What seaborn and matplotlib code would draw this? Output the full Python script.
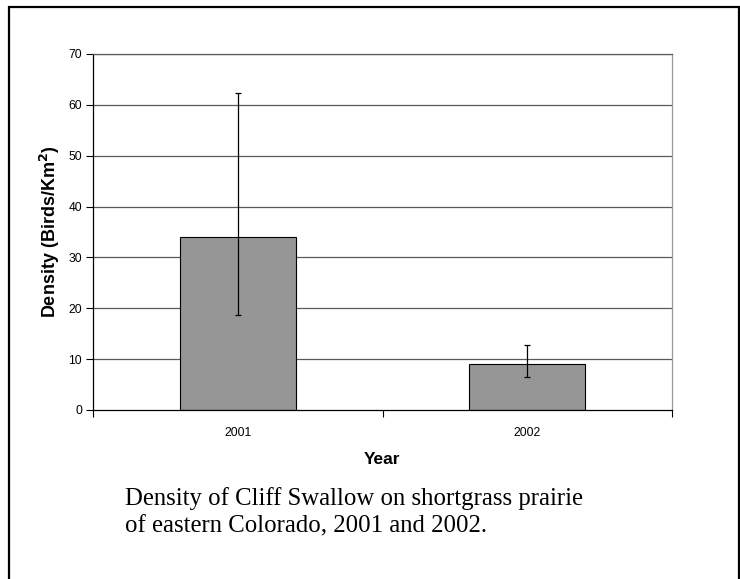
import matplotlib
matplotlib.use("Agg")
import matplotlib.pyplot as plt
import seaborn as sns
import pandas as pd
from matplotlib.patches import Rectangle

years = ["2001", "2002"]
density = [34.0, 9.1]
err_low = [18.6, 6.5]
err_high = [62.3, 12.7]
yticks = [0, 10, 20, 30, 40, 50, 60, 70]
caption = ["Density of Cliff Swallow on shortgrass prairie",
           "of eastern Colorado, 2001 and 2002."]

sns.set_theme(style="white")
plt.rcParams['font.family'] = ['Liberation Sans', 'DejaVu Sans']
plt.rcParams['text.color'] = 'black'
plt.rcParams['axes.labelcolor'] = 'black'

df = pd.DataFrame({"Year": years, "Density": density})

fig = plt.figure(figsize=(7.4, 5.79), dpi=100)
ax = fig.add_axes([93/740, 1-410/579, (672-93)/740, (410-54)/579])

ax.set_axisbelow(True)
for v in yticks[1:]:
    ax.axhline(v, color="#5a5a5a", lw=0.9, zorder=0)

sns.barplot(data=df, x="Year", y="Density", ax=ax, width=0.4,
            color="#969696", edgecolor="black", linewidth=0.8,
            errorbar=None, saturation=1, zorder=2)

lower = [d - lo for d, lo in zip(density, err_low)]
upper = [hi - d for d, hi in zip(density, err_high)]
ax.errorbar([0, 1], density, yerr=[lower, upper], fmt="none",
            ecolor="black", elinewidth=0.9, capsize=2.2, capthick=0.9, zorder=3)

ax.set_xlim(-0.5, 1.5)
ax.set_ylim(0, 70)
ax.set_yticks(yticks)
ax.set_yticklabels([str(v) for v in yticks], fontsize=8.7, color="black")
ax.set_xticks([-0.5, 0.5, 1.5])
ax.set_xticklabels([])
ax.set_xticks([0, 1], minor=True)
ax.set_xticklabels(years, minor=True, fontsize=8.7, color="black")
ax.tick_params(axis="x", which="major", direction="out", length=5, width=0.8,
               color="black", bottom=True)
ax.tick_params(axis="x", which="minor", length=0, pad=12)
ax.tick_params(axis="y", direction="out", length=5, width=0.8, color="black",
               left=True, pad=3)

for s in ["left", "bottom"]:
    ax.spines[s].set_color("black")
    ax.spines[s].set_linewidth(0.9)
ax.spines["top"].set_color("#5a5a5a")
ax.spines["top"].set_linewidth(0.9)
ax.spines["right"].set_color("#999999")
ax.spines["right"].set_linewidth(0.9)

ax.set_xlabel("Year", fontsize=12.5, fontweight="bold", color="black")
ax.xaxis.set_label_coords(0.5, -(459 - 410) / 356, transform=ax.transAxes)
ax.xaxis.label.set_va("center")
ax.set_ylabel("Density (Birds/Km$^\\mathbf{2}$)", fontsize=13, fontweight="bold", color="black")
ax.yaxis.set_label_coords(-(93 - 50) / 579, (410 - 232) / 356, transform=ax.transAxes)
ax.yaxis.label.set_va("center")

for i, line in enumerate(caption):
    fig.text(125/740, 1 - (505 + 27 * i)/579, line,
             family=["Liberation Serif", "DejaVu Serif"], fontsize=17.8,
             ha="left", va="baseline", color="black")

fig.patches.append(Rectangle((8.5/740, -0.1), (738.5-8.5)/740, 1.1 - 7/579,
                             transform=fig.transFigure, fill=False,
                             edgecolor="black", lw=1.6, clip_on=False))

fig.savefig("out.png", dpi=100)
